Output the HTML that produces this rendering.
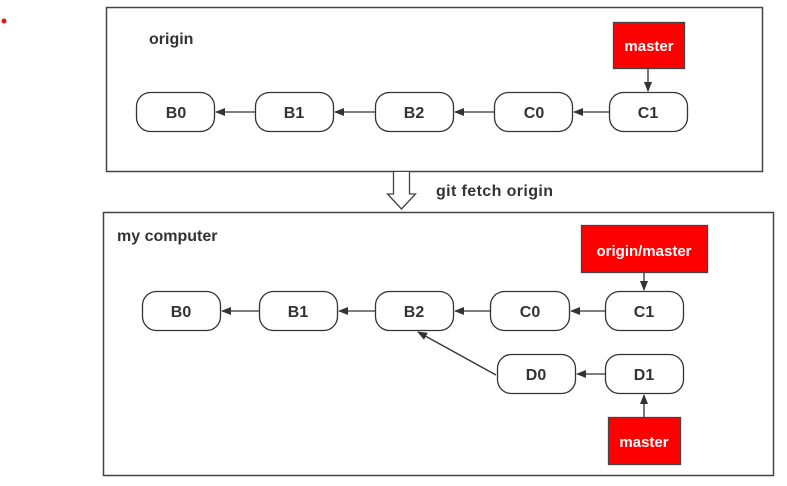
<!DOCTYPE html>
<html><head><meta charset="utf-8"><style>
html,body{margin:0;padding:0;background:#fff;}
svg{display:block;}
text{font-family:"Liberation Sans","Noto Sans CJK SC",sans-serif;font-weight:bold;}
</style></head><body>
<svg width="787" height="486" viewBox="0 0 787 486" xmlns="http://www.w3.org/2000/svg">
<defs>
<marker id="a" markerWidth="10" markerHeight="8" refX="9" refY="4" orient="auto" markerUnits="userSpaceOnUse">
<path d="M0,0 L10,4 L0,8 Z" fill="#333"/></marker>
</defs>
<circle cx="4" cy="21" r="2.5" fill="#e11"/>
<rect x="106.5" y="7.5" width="656" height="164" fill="#fff" stroke="#444" stroke-width="1.5"/>
<text x="149" y="44" font-size="16" fill="#333">origin</text>
<g stroke="#333" stroke-width="1.3" fill="#fff">
<rect x="136.5" y="92.5" width="78" height="39" rx="14"/>
<rect x="255.5" y="92.5" width="78" height="39" rx="14"/>
<rect x="375.5" y="92.5" width="78" height="39" rx="14"/>
<rect x="494.5" y="92.5" width="78" height="39" rx="14"/>
<rect x="609.5" y="92.5" width="78" height="39" rx="14"/>
</g>
<rect x="613.5" y="22.5" width="71" height="46" fill="#f00" stroke="#444" stroke-width="1.3"/>
<g stroke="#333" stroke-width="1.3" marker-end="url(#a)">
<line x1="255" y1="112" x2="216" y2="112"/>
<line x1="375" y1="112" x2="335" y2="112"/>
<line x1="494" y1="112" x2="455" y2="112"/>
<line x1="609" y1="112" x2="574" y2="112"/>
<line x1="648" y1="69" x2="648" y2="91"/>
</g>
<g font-size="16" fill="#333" text-anchor="middle">
<text x="176" y="118">B0</text><text x="294" y="118">B1</text><text x="414" y="118">B2</text><text x="534" y="118">C0</text><text x="648" y="118">C1</text>
</g>
<text x="649" y="51" font-size="15" fill="#fff" text-anchor="middle">master</text>
<path d="M393.5,172 L393.5,194 L387.5,194 L401.5,209 L415.5,194 L409.5,194 L409.5,172" fill="#fff" stroke="#444" stroke-width="1.3"/>
<text x="436" y="196" font-size="16" fill="#333" textLength="117">git fetch origin</text>
<rect x="103.5" y="212.5" width="670" height="263" fill="#fff" stroke="#444" stroke-width="1.5"/>
<text x="117" y="241" font-size="16" fill="#333">my computer</text>
<g stroke="#333" stroke-width="1.3" fill="#fff">
<rect x="142.5" y="291.5" width="78" height="39" rx="14"/>
<rect x="259.5" y="291.5" width="78" height="39" rx="14"/>
<rect x="375.5" y="291.5" width="78" height="39" rx="14"/>
<rect x="490.5" y="291.5" width="79" height="39" rx="14"/>
<rect x="605.5" y="291.5" width="78" height="39" rx="14"/>
<rect x="497.5" y="354.5" width="78" height="39" rx="14"/>
<rect x="605.5" y="354.5" width="78" height="39" rx="14"/>
</g>
<rect x="581.5" y="225.5" width="126" height="47" fill="#f00" stroke="#444" stroke-width="1.3"/>
<rect x="608.5" y="417.5" width="72" height="47" fill="#f00" stroke="#444" stroke-width="1.3"/>
<g stroke="#333" stroke-width="1.3" marker-end="url(#a)">
<line x1="259" y1="311" x2="222" y2="311"/>
<line x1="375" y1="311" x2="339" y2="311"/>
<line x1="490" y1="311" x2="455" y2="311"/>
<line x1="605" y1="311" x2="571" y2="311"/>
<line x1="605" y1="374" x2="577" y2="374"/>
<line x1="496" y1="375" x2="418" y2="332"/>
<line x1="644" y1="273" x2="644" y2="290"/>
<line x1="644" y1="417" x2="644" y2="395"/>
</g>
<g font-size="16" fill="#333" text-anchor="middle">
<text x="181" y="317">B0</text><text x="298" y="317">B1</text><text x="414" y="317">B2</text><text x="530" y="317">C0</text><text x="644" y="317">C1</text>
<text x="536" y="380">D0</text><text x="644" y="380">D1</text>
</g>
<text x="644" y="256" font-size="15" fill="#fff" text-anchor="middle">origin/master</text>
<text x="644" y="447" font-size="15" fill="#fff" text-anchor="middle">master</text>
</svg>
</body></html>
